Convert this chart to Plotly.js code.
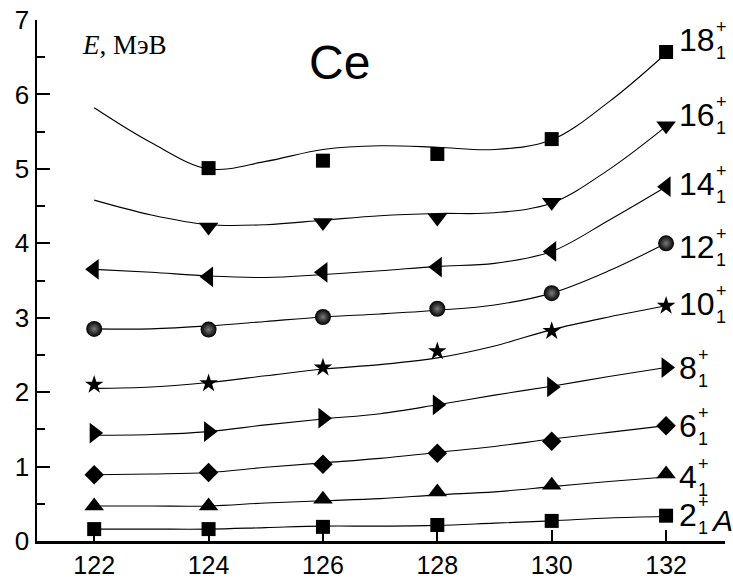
<!DOCTYPE html>
<html>
<head>
<meta charset="utf-8">
<script src="https://cdn.plot.ly/plotly-3.0.1.min.js"></script>
<style>html,body{margin:0;padding:0;background:#fff;}#chart{width:733px;height:579px;}</style>
</head>
<body>
<div id="chart"></div>
<script>
// Mass numbers A
const massAll = [122, 124, 126, 128, 130, 132];
const massFrom124 = [124, 126, 128, 130, 132];

// Level energies E (MeV)
const E2  = [0.16, 0.16, 0.19, 0.215, 0.27, 0.34];
const E4  = [0.47, 0.47, 0.56, 0.66, 0.75, 0.90];
const E6  = [0.89, 0.92, 1.03, 1.18, 1.34, 1.55];
const E8  = [1.45, 1.47, 1.65, 1.83, 2.07, 2.33];
const E10 = [2.10, 2.12, 2.33, 2.55, 2.82, 3.16];
const E12 = [2.85, 2.84, 3.01, 3.12, 3.33, 4.00];
const E14 = [3.65, 3.55, 3.61, 3.68, 3.89, 4.76];
const E16 = [4.22, 4.28, 4.34, 4.55, 5.58];
const E18 = [5.01, 5.11, 5.20, 5.40, 6.57];

// Fitted curves (at each integer A)
const fitA  = [122, 123, 124, 125, 126, 127, 128, 129, 130, 131, 132];
const fit2  = [0.16, 0.16, 0.16, 0.18, 0.20, 0.20, 0.21, 0.24, 0.27, 0.31, 0.33];
const fit4  = [0.47, 0.47, 0.47, 0.51, 0.54, 0.57, 0.62, 0.66, 0.73, 0.80, 0.86];
const fit6  = [0.89, 0.90, 0.92, 0.99, 1.05, 1.11, 1.19, 1.27, 1.37, 1.46, 1.55];
const fit8  = [1.42, 1.43, 1.47, 1.56, 1.64, 1.71, 1.83, 1.96, 2.08, 2.21, 2.33];
const fit10 = [2.05, 2.07, 2.13, 2.22, 2.31, 2.37, 2.46, 2.62, 2.84, 3.01, 3.16];
const fit12 = [2.85, 2.85, 2.89, 2.95, 3.01, 3.05, 3.10, 3.17, 3.33, 3.63, 4.00];
const fit14 = [3.65, 3.61, 3.56, 3.54, 3.58, 3.63, 3.69, 3.73, 3.89, 4.31, 4.76];
const fit16 = [4.58, 4.38, 4.25, 4.25, 4.31, 4.37, 4.40, 4.41, 4.54, 4.99, 5.57];
const fit18 = [5.82, 5.35, 5.00, 5.10, 5.26, 5.31, 5.29, 5.26, 5.39, 5.90, 6.55];

// Level labels
const spins = ["2", "4", "6", "8", "10", "12", "14", "16", "18"];
const xTicks = [122, 124, 126, 128, 130, 132];

const series = [
  {x: massAll,    y: E2,  fit: fit2,  sym: "square",         size: 14, yshift: 1},
  {x: massAll,    y: E4,  fit: fit4,  sym: "triangle-up",    size: 17, yshift: -3},
  {x: massAll,    y: E6,  fit: fit6,  sym: "diamond",        size: 15, yshift: 0},
  {x: massAll,    y: E8,  fit: fit8,  sym: "triangle-right", size: 18, yshift: 0},
  {x: massAll,    y: E10, fit: fit10, sym: "star",           size: 14, yshift: 2},
  {x: massAll,    y: E12, fit: fit12, sym: "circle",         size: 16, yshift: -4, sphere: true},
  {x: massAll,    y: E14, fit: fit14, sym: "triangle-left",  size: 18, yshift: 3},
  {x: massFrom124,y: E16, fit: fit16, sym: "triangle-down",  size: 17, yshift: 11},
  {x: massFrom124,y: E18, fit: fit18, sym: "square",         size: 14, yshift: 12}
];

const traces = [];
const annotations = [];
series.forEach((s, i) => {
  traces.push({
    x: fitA, y: s.fit, type: "scatter", mode: "lines",
    line: {color: "#000", width: 1.1, shape: "spline", smoothing: 1},
    hoverinfo: "skip"
  });
  const marker = {symbol: s.sym, size: s.size, color: "#000", line: {width: 0}};
  if (s.sphere) marker.gradient = {type: "radial", color: "#7a7a7a"};
  traces.push({x: s.x, y: s.y, type: "scatter", mode: "markers", marker: marker, cliponaxis: false});

  const lastY = s.y[s.y.length - 1];
  const lab = spins[i];
  const w = lab.length * 17.8;
  annotations.push({x: 132, y: lastY, xref: "x", yref: "y", text: lab, showarrow: false,
    xanchor: "left", yanchor: "middle", xshift: 11, yshift: s.yshift,
    font: {family: "Liberation Sans, Arial, sans-serif", size: 32, color: "#000"}});
  annotations.push({x: 132, y: lastY, xref: "x", yref: "y", text: "+", showarrow: false,
    xanchor: "left", yanchor: "middle", xshift: 11 + w + 1, yshift: s.yshift + 13,
    font: {family: "Liberation Sans, Arial, sans-serif", size: 18, color: "#000"}});
  annotations.push({x: 132, y: lastY, xref: "x", yref: "y", text: "1", showarrow: false,
    xanchor: "left", yanchor: "middle", xshift: 11 + w + 1, yshift: s.yshift - 13,
    font: {family: "Liberation Sans, Arial, sans-serif", size: 18, color: "#000"}});
  if (i === 0) {
    annotations.push({x: 132, y: lastY, xref: "x", yref: "y", text: "<i>A</i>", showarrow: false,
      xanchor: "left", yanchor: "middle", xshift: 43, yshift: s.yshift - 6,
      font: {family: "Liberation Sans, Arial, sans-serif", size: 30, color: "#000"}});
  }
});

annotations.push({x: 0.4404, y: 0.918, xref: "paper", yref: "paper", text: "Ce", showarrow: false,
  xanchor: "center", yanchor: "middle", font: {family: "Liberation Sans, Arial, sans-serif", size: 48, color: "#000"}});
annotations.push({x: 0.127, y: 0.952, xref: "paper", yref: "paper", text: "<i>E</i>, МэВ", showarrow: false,
  xanchor: "center", yanchor: "middle", font: {family: "Liberation Serif, Times New Roman, serif", size: 27, color: "#000"}});

const layout = {
  width: 733, height: 579,
  margin: {l: 37, r: 8, t: 20, b: 38},
  paper_bgcolor: "#fff", plot_bgcolor: "#fff",
  showlegend: false,
  xaxis: {
    range: [121, 133.03], tickvals: xTicks, ticktext: xTicks.map(String),
    showline: true, linewidth: 2.5, linecolor: "#000",
    ticks: "inside", ticklen: 11, tickwidth: 2, tickcolor: "#000",
    showgrid: false, zeroline: false,
    tickfont: {family: "Liberation Sans, Arial, sans-serif", size: 25, color: "#000"}
  },
  yaxis: {
    range: [0, 7], dtick: 1, tick0: 0,
    showline: true, linewidth: 2.5, linecolor: "#000",
    ticks: "inside", ticklen: 13, tickwidth: 2, tickcolor: "#000",
    minor: {dtick: 0.5, ticks: "inside", ticklen: 8, tickwidth: 2, tickcolor: "#000", showgrid: false},
    showgrid: false, zeroline: false,
    tickfont: {family: "Liberation Sans, Arial, sans-serif", size: 26, color: "#000"}
  },
  annotations: annotations
};

Plotly.newPlot("chart", traces, layout, {staticPlot: true, displayModeBar: false});
</script>
</body>
</html>
